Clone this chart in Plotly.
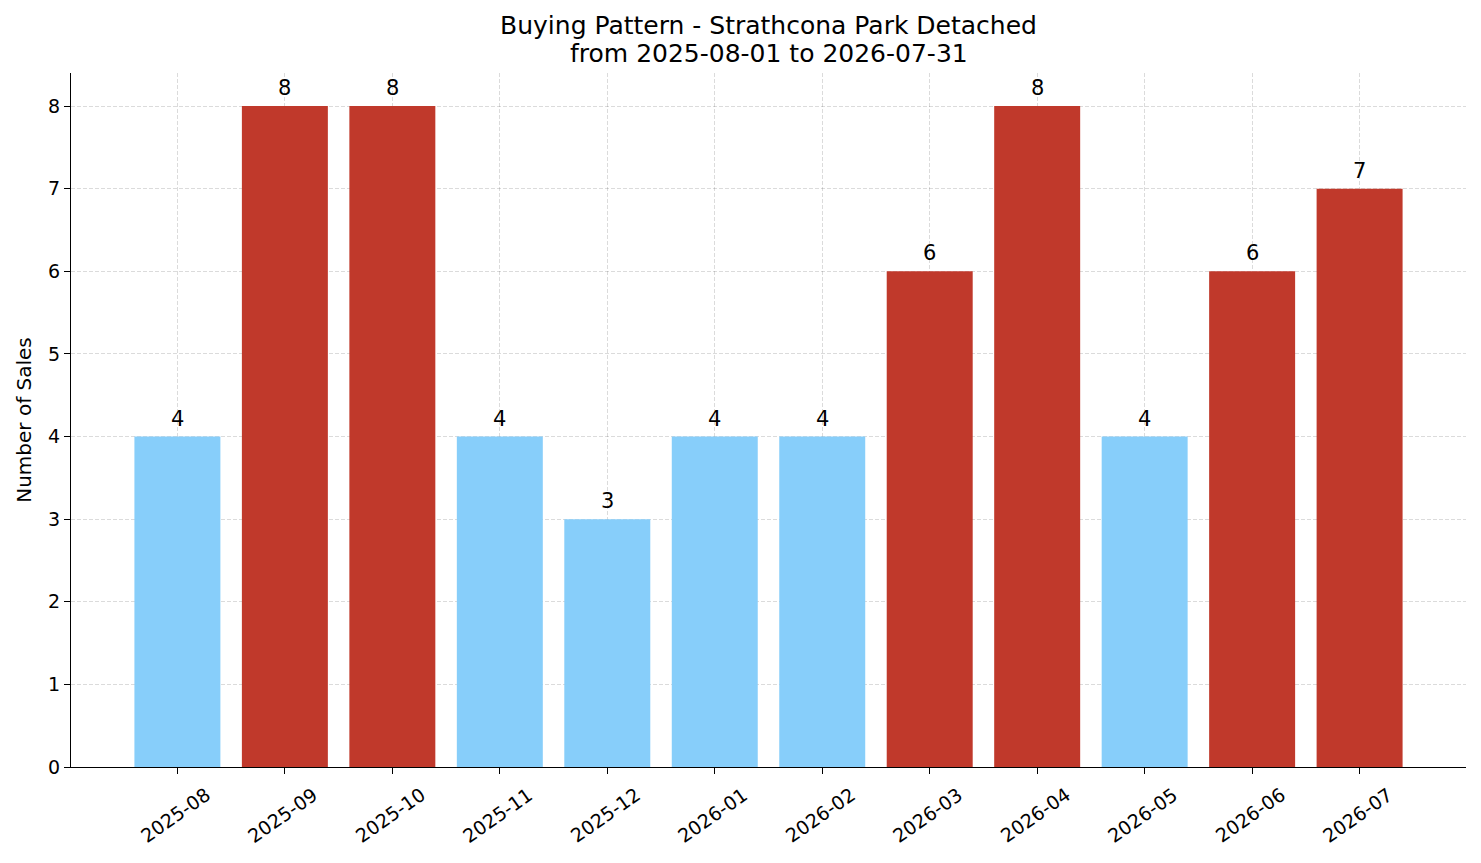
import plotly.graph_objects as go

months = ["2025-08", "2025-09", "2025-10", "2025-11", "2025-12", "2026-01",
          "2026-02", "2026-03", "2026-04", "2026-05", "2026-06", "2026-07"]
sales = [4, 8, 8, 4, 3, 4, 4, 6, 8, 4, 6, 7]
title_lines = ["Buying Pattern - Strathcona Park Detached", "from 2025-08-01 to 2026-07-31"]

# high months (>5) red, others light blue
colors = ["#C0392B" if v > 5 else "#87CEFA" for v in sales]
xs = list(range(len(months)))

fig = go.Figure(
    go.Bar(
        x=xs, y=sales,
        marker=dict(color=colors, line=dict(width=0)),
        width=0.8, hoverinfo="x+y",
    )
)

# value labels above bars
for i, v in zip(xs, sales):
    fig.add_annotation(
        x=i, y=v, text=str(v), showarrow=False,
        yanchor="bottom", yshift=4,
        font=dict(family="DejaVu Sans", size=21, color="black"),
    )

# rotated month labels centred under each tick (matplotlib style)
for i, m in zip(xs, months):
    fig.add_annotation(
        x=i, y=0, yref="paper", text=m, showarrow=False, textangle=-35,
        xanchor="center", yanchor="top", xshift=-2, yshift=-14,
        font=dict(family="DejaVu Sans", size=19, color="black"),
    )

# second title line as its own text, to get matplotlib's tighter line spacing
fig.add_annotation(
    x=0.5, xref="paper", y=1.0288, yref="paper", text=title_lines[1],
    showarrow=False, xanchor="center", yanchor="middle",
    font=dict(family="DejaVu Sans", size=25, color="black"),
)

axis_font = dict(family="DejaVu Sans", size=19, color="black")
grid = dict(showgrid=True, gridcolor="rgba(0,0,0,0.14)", griddash="4px,2px", gridwidth=0.8)

# page body has an 8px margin, so margins are trimmed to match
fig.update_layout(
    margin=dict(l=63, r=7, t=65, b=88),
    plot_bgcolor="white", paper_bgcolor="white",
    font=dict(family="DejaVu Sans", color="black"),
    title=dict(
        text=title_lines[0],
        x=0.5, xref="paper", xanchor="center", y=0.98, yanchor="middle",
        font=dict(size=25),
    ),
    showlegend=False,
)

fig.update_xaxes(
    range=[-0.99, 11.99], tickmode="array",
    tickvals=xs, showticklabels=False,
    ticks="outside", ticklen=6, tickwidth=1.3, tickcolor="black",
    showline=True, linecolor="black", linewidth=1.4,
    zeroline=False, layer="above traces", **grid,
)
fig.update_yaxes(
    range=[0, 8.4], dtick=1, tickfont=axis_font,
    ticks="outside", ticklen=6, tickwidth=1.3, tickcolor="black",
    showline=True, linecolor="black", linewidth=1.4,
    zeroline=False, layer="above traces", **grid,
    title=dict(text="Number of Sales", font=dict(size=20), standoff=10),
)

fig.write_html("out.html")
